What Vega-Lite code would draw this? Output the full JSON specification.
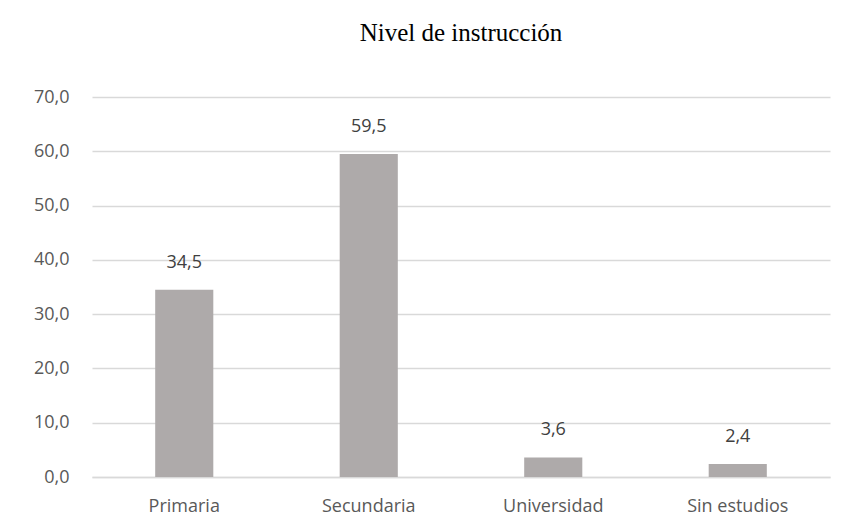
{
  "$schema": "https://vega.github.io/schema/vega-lite/v6.json",
  "autosize": "none",
  "width": 738,
  "height": 380,
  "padding": {"left": 92, "top": 97, "right": 17, "bottom": 53},
  "background": "white",
  "title": {
    "text": "Nivel de instrucción",
    "font": "Liberation Serif",
    "fontSize": 25,
    "fontWeight": "normal",
    "color": "#000000",
    "anchor": "middle",
    "offset": 42
  },
  "config": {
    "locale": {"number": {"decimal": ",", "thousands": ".", "grouping": [3], "currency": ["", " €"]}},
    "view": {"stroke": null},
    "font": "Open Sans"
  },
  "data": {
    "values": [
      {"nivel": "Primaria", "porcentaje": 34.5},
      {"nivel": "Secundaria", "porcentaje": 59.5},
      {"nivel": "Universidad", "porcentaje": 3.6},
      {"nivel": "Sin estudios", "porcentaje": 2.4}
    ]
  },
  "encoding": {
    "x": {
      "field": "nivel",
      "type": "nominal",
      "sort": null,
      "scale": {"paddingInner": 0.685, "paddingOuter": 0.3425},
      "axis": {
        "title": null,
        "labelAngle": 0,
        "labelFont": "Open Sans",
        "labelFontSize": 18,
        "labelColor": "#595959",
        "labelPadding": 20,
        "ticks": false,
        "domainColor": "#d9d9d9",
        "domainWidth": 1.5
      }
    },
    "y": {
      "field": "porcentaje",
      "type": "quantitative",
      "scale": {"domain": [0, 70]},
      "axis": {
        "title": null,
        "values": [0, 10, 20, 30, 40, 50, 60, 70],
        "format": ".1f",
        "labelFont": "Open Sans",
        "labelFontSize": 18,
        "labelColor": "#595959",
        "labelPadding": 23,
        "ticks": false,
        "domain": false,
        "gridColor": "#d9d9d9",
        "gridWidth": 1.5
      }
    }
  },
  "layer": [
    {
      "mark": {"type": "bar", "color": "#aeaaaa"}
    },
    {
      "mark": {"type": "text", "baseline": "middle", "dy": -27, "fontSize": 18, "font": "Open Sans", "color": "#404040"},
      "encoding": {
        "text": {"field": "porcentaje", "type": "quantitative", "format": ".1f"}
      }
    }
  ]
}
